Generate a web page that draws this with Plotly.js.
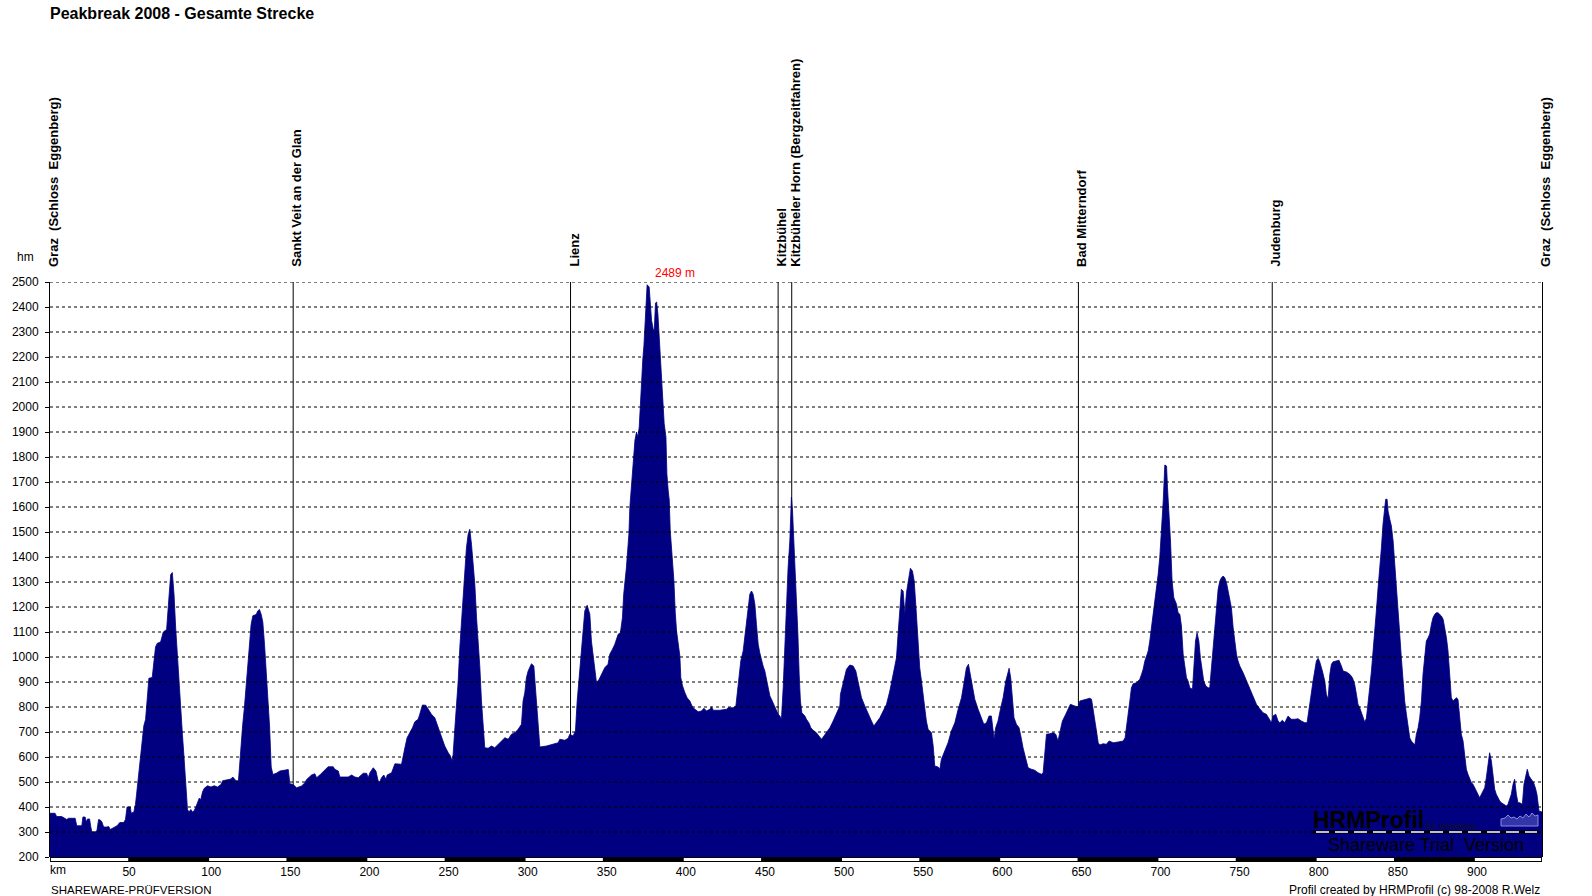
<!DOCTYPE html>
<html><head><meta charset="utf-8">
<script src="https://cdn.plot.ly/plotly-3.0.1.min.js"></script>
<style>html,body{margin:0;padding:0;background:#fff;} #chart{width:1592px;height:896px;}</style>
</head><body><div id="chart"></div>
<script>
// ---- profile data: [km, elevation m] per leg ----
const legGrazStVeit = [[0,375],[3.2,375],[4.2,362],[7.4,362],[10.6,350],[11.7,355],[15.9,355],[16.9,325],[20.1,325],[20.8,360],[22.2,360],[22.9,340],[23.7,352],[25.0,352],[25.8,320],[26.5,300],[28.6,300],[29.7,307],[30.7,350],[31.8,348],[32.8,340],[33.9,320],[36.0,320],[37.1,322],[38.1,310],[40.3,318],[42.4,325],[44.1,338],[46.6,338],[47.7,350],[48.7,400],[50.8,400],[51.3,375],[53.0,380],[54.0,410],[54.7,450],[55.5,500],[56.8,580],[58.3,650],[59.3,725],[60.4,750],[61.4,850],[62.5,915],[64.6,918],[65.7,1000],[66.7,1040],[67.8,1055],[69.9,1060],[71.6,1100],[73.7,1110],[75.2,1240],[76.3,1330],[77.3,1338],[78.4,1250],[79.4,1120],[80.5,1000],[81.6,910],[82.6,800],[83.7,690],[84.7,600],[85.8,480],[86.9,390],[87.9,380],[89.0,390],[90.0,380],[91.1,385],[92.2,400],[93.2,420],[94.3,435],[95.3,430],[96.4,460],[97.5,475],[99.6,485],[101.7,480],[103.8,485],[105.9,480],[108.1,490],[109.1,505],[112.3,510],[114.4,512],[115.5,520],[117.6,505],[119.1,505],[119.7,560],[120.8,650],[121.8,730],[122.9,800],[123.9,880],[125.0,960],[126.1,1050],[127.1,1130],[128.2,1165],[130.3,1170],[131.4,1185],[132.4,1190],[133.5,1170],[134.5,1140],[135.6,1050],[136.7,950],[137.7,850],[138.8,720],[139.8,560],[140.9,530],[143.0,535],[145.3,544],[150.6,550],[151.6,493],[153.7,490]];
const legStVeitLienz = [[155.8,477],[159.0,484],[161.1,497],[162.2,510],[165.3,528],[167.4,533],[168.5,517],[171.0,531],[172.7,541],[175.8,561],[179.0,561],[180.0,551],[182.2,544],[183.2,520],[188.5,520],[190.6,528],[192.7,520],[194.8,517],[198.0,535],[200.1,535],[201.1,517],[202.2,537],[204.3,557],[206.0,544],[207.4,504],[208.5,501],[209.5,517],[211.0,528],[212.3,511],[213.1,528],[215.9,537],[216.9,551],[218.0,573],[222.2,571],[223.2,597],[224.3,637],[225.7,677],[227.4,697],[229.1,717],[230.6,741],[232.7,751],[233.7,771],[235.4,808],[237.5,807],[239.0,791],[241.1,771],[243.2,757],[244.3,737],[246.0,704],[248.1,671],[249.5,644],[251.7,617],[253.1,604],[254.2,584],[254.8,611],[255.9,717],[256.9,797],[258.0,904],[259.0,1037],[260.1,1144],[261.1,1251],[262.2,1331],[263.2,1437],[264.3,1491],[265.3,1511],[266.4,1451],[267.4,1384],[268.5,1291],[269.6,1157],[270.6,1064],[271.7,957],[272.7,824],[273.8,717],[274.8,637],[276.9,635],[279.0,644],[281.1,637],[283.2,651],[285.3,664],[287.5,677],[289.6,671],[291.7,691],[293.8,697],[295.9,711],[298.0,731],[299.0,824],[300.1,857],[301.1,917],[302.2,944],[304.3,973],[305.8,964],[307.0,851],[308.5,717],[309.6,640],[313.8,644],[318.0,651],[321.2,657],[322.2,671],[325.4,667],[327.5,675],[328.5,691]];
const legLienzKitzbuehel = [[330.6,684],[332.1,704],[333.2,824],[334.2,904],[335.5,1011],[336.5,1091],[338.0,1184],[339.5,1207],[341.2,1171],[342.2,1064],[343.3,997],[344.3,944],[345.4,897],[347.1,911],[348.5,931],[350.6,957],[352.7,971],[353.8,1011],[355.5,1031],[357.0,1051],[359.1,1091],[360.5,1097],[361.8,1157],[362.6,1251],[364.3,1357],[365.0,1407],[365.9,1493],[366.5,1600],[367.6,1680],[368.6,1787],[369.7,1867],[370.7,1900],[371.6,1880],[372.4,1920],[372.8,1973],[373.7,2047],[374.1,2113],[374.7,2193],[375.4,2247],[376.0,2336],[376.6,2420],[377.4,2489],[378.7,2480],[379.4,2420],[380.2,2347],[381.2,2313],[381.9,2305],[382.7,2416],[383.4,2420],[384.2,2373],[384.8,2307],[385.5,2240],[386.1,2160],[386.7,2107],[387.6,2013],[388.2,1933],[389.3,1880],[389.9,1733],[390.7,1667],[391.4,1627],[392.0,1507],[392.9,1433],[393.5,1367],[394.3,1307],[395.2,1177],[396.0,1104],[397.4,1037],[398.1,1004],[398.7,917],[399.8,884],[401.3,857],[402.7,837],[404.4,824],[406.1,800],[407.6,791],[409.7,781],[411.8,784],[413.3,795],[414.9,784],[417.1,791],[418.1,801],[419.2,787],[423.4,787],[427.6,791],[428.6,797],[431.8,797],[433.5,804],[434.3,851],[435.6,917],[436.6,984],[438.1,1024],[439.2,1077],[440.2,1131],[441.3,1197],[442.3,1251],[443.4,1264],[444.4,1251],[445.5,1211],[446.5,1131],[447.6,1051],[448.6,1017],[449.7,984],[450.7,964],[451.8,944],[452.9,904],[453.9,871],[455.0,844],[456.0,831],[457.5,811],[458.8,787],[460.2,771]];
const legKitzbuehelHorn = [[461.3,764],[462.3,751],[463.4,877],[464.4,1037],[465.5,1171],[466.5,1357],[467.6,1464],[468.2,1584],[468.6,1640]];
const legHornMitterndorf = [[469.3,1584],[470.1,1477],[471.0,1357],[471.8,1251],[472.7,1091],[473.5,931],[474.3,824],[475.2,777],[476.0,771],[477.1,764],[478.1,751],[479.6,737],[480.9,717],[482.3,707],[484.4,697],[486.1,684],[487.6,671],[488.7,680],[490.8,697],[492.9,717],[495.0,744],[497.1,777],[499.2,804],[499.6,851],[501.3,891],[503.4,951],[505.5,968],[507.6,964],[509.3,944],[510.8,897],[511.8,871],[512.9,837],[515.0,804],[517.1,771],[519.2,744],[520.7,724],[522.4,737],[524.5,757],[526.6,784],[528.7,811],[530.8,864],[532.9,931],[535.0,997],[536.0,1091],[537.1,1171],[538.1,1271],[539.2,1264],[540.3,1171],[541.3,1257],[542.4,1304],[543.8,1355],[545.1,1344],[546.2,1304],[547.2,1211],[548.1,1117],[548.9,1037],[549.7,957],[550.8,904],[551.8,844],[552.9,784],[553.9,744],[555.0,711],[556.1,704],[557.1,697],[558.2,644],[559.2,564],[561.3,560],[562.4,551],[563.4,591],[565.5,624],[567.6,657],[569.7,704],[571.9,737],[574.0,791],[576.1,837],[578.2,917],[579.2,957],[580.5,971],[581.7,931],[583.0,877],[584.5,831],[586.6,791],[588.7,751],[590.2,731],[591.9,737],[593.5,764],[595.0,764],[596.1,717],[596.7,671],[597.7,717],[599.2,744],[600.7,791],[602.4,837],[604.1,904],[605.1,931],[606.2,955],[607.2,917],[608.3,824],[609.3,757],[610.8,731],[612.5,717],[614.0,671],[615.0,637],[617.1,584],[618.2,557],[620.3,551],[622.4,547],[624.5,537],[626.6,531],[627.7,537],[628.7,597],[629.8,691],[631.9,693],[634.0,697],[635.7,691],[637.1,664],[638.2,697],[639.9,744],[642.0,771],[643.4,791],[644.9,811],[647.7,804],[649.8,800]];
const legMitterndorfJudenburg = [[650.9,824],[653.0,827],[655.1,831],[657.2,835],[658.3,831],[659.3,784],[660.4,744],[661.4,704],[662.5,657],[663.5,648],[665.6,653],[667.7,651],[669.4,664],[672.0,657],[675.1,660],[678.3,664],[679.5,677],[680.4,717],[681.4,771],[682.5,824],[683.5,877],[684.6,893],[686.7,897],[688.8,911],[689.9,931],[690.9,951],[692.0,984],[693.0,1004],[694.1,1024],[695.1,1064],[696.2,1117],[697.2,1171],[698.3,1211],[699.3,1277],[700.4,1331],[701.4,1397],[702.5,1504],[703.6,1624],[704.6,1768],[705.7,1764],[706.3,1677],[707.1,1597],[708.2,1464],[709.2,1304],[710.3,1237],[712.0,1211],[713.0,1177],[714.1,1171],[715.1,1124],[716.2,1011],[717.2,957],[718.3,917],[719.3,904],[720.4,877],[722.1,871],[722.9,957],[724.0,1064],[725.0,1097],[726.1,1064],[727.1,997],[728.2,957],[729.2,904],[730.5,884],[732.0,877],[733.0,877],[734.1,957],[735.1,1037],[736.2,1131],[737.2,1197],[738.3,1271],[739.4,1304],[740.4,1317],[741.5,1324],[742.5,1317],[743.6,1297],[744.6,1264],[745.7,1237],[746.7,1197],[747.8,1117],[748.8,1064],[749.9,1011],[750.9,984],[752.0,964],[754.1,937],[756.2,904],[758.3,871],[760.4,837],[762.5,811],[764.6,793],[766.7,777],[768.8,771],[770.9,751],[772.0,737]];
const legJudenburgGraz = [[773.0,764],[774.7,771],[776.2,744],[777.3,737],[778.9,747],[780.4,737],[782.5,764],[784.6,751],[786.7,751],[788.8,753],[790.9,744],[793.1,737],[794.5,737],[795.8,784],[796.8,837],[798.3,904],[799.4,957],[800.4,984],[801.5,995],[802.5,981],[804.2,944],[805.7,904],[806.7,851],[807.8,831],[808.9,931],[809.9,971],[811.0,981],[813.1,984],[814.7,987],[816.2,964],[817.3,944],[819.4,940],[821.5,931],[823.2,917],[824.6,891],[825.7,851],[826.7,811],[827.8,797],[828.9,777],[829.9,760],[831.0,739],[832.0,755],[833.1,811],[834.1,877],[835.2,944],[836.2,1011],[837.3,1097],[838.3,1184],[839.4,1277],[840.4,1344],[841.5,1437],[842.5,1531],[843.6,1597],[844.2,1631],[845.1,1631],[845.7,1584],[846.8,1551],[847.8,1524],[848.9,1464],[849.9,1384],[851.0,1291],[852.0,1184],[853.1,1091],[854.1,997],[855.2,904],[856.2,824],[857.3,771],[858.3,717],[859.4,677],[860.4,664],[861.5,657],[862.6,648],[863.6,691],[864.7,717],[865.7,757],[866.8,824],[867.8,931],[868.9,1011],[869.9,1064],[871.0,1077],[872.0,1091],[873.1,1131],[874.1,1157],[875.2,1171],[876.2,1177],[877.3,1177],[878.3,1171],[879.4,1164],[880.5,1151],[881.5,1117],[882.6,1077],[883.6,1024],[884.7,931],[885.7,837],[886.8,824],[887.8,831],[888.9,837],[889.9,831],[891.0,757],[892.0,691],[893.1,664],[894.1,597],[895.2,551],[896.2,531],[897.3,517],[898.4,497],[899.4,491],[900.5,477],[901.5,464],[902.6,444],[903.6,437],[904.7,451],[905.7,464],[906.8,477],[907.8,517],[908.9,571],[909.9,617],[911.0,584],[912.0,517],[913.1,471],[914.1,451],[915.2,435],[916.3,424],[917.3,417],[918.4,413],[919.4,408],[920.5,404],[921.5,411],[922.6,437],[923.6,451],[924.7,491],[925.7,511],[926.8,451],[927.8,417],[928.9,417],[930.6,411],[931.6,491],[932.7,531],[933.7,551],[934.8,524],[936.3,511],[937.7,497],[938.8,477],[939.8,451],[941.1,384],[943,380]];

const placeNames = ['Graz\u00a0 (Schloss\u00a0 Eggenberg)','Sankt Veit an der Glan','Lienz','Kitzbühel','Kitzbüheler Horn (Bergzeitfahren)','Bad Mitterndorf','Judenburg','Graz\u00a0 (Schloss\u00a0 Eggenberg)'];
const placeKm = [0,153.7,329,460.2,468.8,650,772.5,943];
const xTickVals = [50,100,150,200,250,300,350,400,450,500,550,600,650,700,750,800,850,900];
const xTickText = ['50','\u2002100','\u2002150','\u2002200','\u2002250','\u2002300','\u2002350','\u2002400','\u2002450','\u2002500','\u2002550','\u2002600','\u2002650','\u2002700','\u2002750','\u2002800','\u2002850','\u2002900'];
const yTickVals = [200,300,400,500,600,700,800,900,1000,1100,1200,1300,1400,1500,1600,1700,1800,1900,2000,2100,2200,2300,2400,2500];
const yTickText = yTickVals.map(String);

// ---- layout geometry (page pixels) ----
const W=1592,H=896,L=50,R=1542,T=282,B=857;
const FONT='Liberation Sans, Arial, sans-serif';
const fx = px => (px-L)/(R-L);
const fy = py => (B-py)/(B-T);
const kmMax = 943;

const pts = [legGrazStVeit,legStVeitLienz,legLienzKitzbuehel,legKitzbuehelHorn,legHornMitterndorf,legMitterndorfJudenburg,legJudenburgGraz].flat();
const km = pts.map(p=>p[0]);
const elev = pts.map(p=>p[1]);
let iMax = 0; elev.forEach((v,i)=>{ if(v>elev[iMax]) iMax=i; });

const trace = {x:km, y:elev, type:'scatter', mode:'lines', line:{color:'#000080', width:0.8},
  fill:'tozeroy', fillcolor:'#000080', hoverinfo:'skip'};

const shapes = [];
placeKm.slice(1,-1).forEach(k=>shapes.push({type:'line', xref:'x', yref:'y', x0:k, x1:k, y0:200, y1:2500, line:{color:'#000', width:1}, layer:'below'}));
yTickVals.filter(v=>v>200).forEach(v=>shapes.push({type:'line', xref:'paper', yref:'y', x0:0, x1:1, y0:v, y1:v, line:{color:'#000', width:1, dash:'3px,3px'}, layer:'above'}));
const ph = B-T;
shapes.push({type:'rect', xref:'paper', yref:'paper', x0:0, x1:1, y0:-5/ph, y1:0, fillcolor:'#000', line:{width:0}, layer:'above'});
for(let s=0; s<kmMax; s+=100){
  shapes.push({type:'rect', xref:'paper', yref:'paper', x0:s/kmMax+0.0006, x1:Math.min(s+50,kmMax)/kmMax-0.0006, y0:-4/ph, y1:-1/ph, fillcolor:'#fff', line:{width:0}, layer:'above'});
}
// watermark underline and logo
shapes.push({type:'line', xref:'paper', yref:'paper', x0:fx(1313), x1:fx(1539), y0:fy(832), y1:fy(832), line:{color:'#000', width:3}, layer:'above'});
shapes.push({type:'line', xref:'paper', yref:'paper', x0:fx(1316), x1:fx(1537), y0:fy(832), y1:fy(832), line:{color:'#fff', width:1.5, dash:'13px,6px'}, layer:'above'});
const logoPts = [[1501,826],[1501,819],[1505,818],[1508,815],[1511,818],[1514,817],[1517,819],[1520,816],[1523,818],[1526,814],[1529,817],[1532,813],[1535,816],[1538,815],[1538,826]];
shapes.push({type:'path', xref:'paper', yref:'paper', path:'M'+logoPts.map(p=>fx(p[0])+','+fy(p[1])).join(' L')+' Z',
  fillcolor:'#3434aa', line:{color:'#8a8ae0', width:1}, layer:'above'});

const annotations = [];
placeNames.forEach((n,i)=>annotations.push({text:'<b>'+n+'</b>', x:placeKm[i]/kmMax, xref:'paper', y:1, yref:'paper',
  xanchor:'center', yanchor:'bottom', xshift:3, yshift:13, textangle:-90, showarrow:false,
  font:{family:FONT, size:13, color:'#000'}}));
annotations.push({text:elev[iMax]+' m', x:km[iMax], xref:'x', y:2500, yref:'y', xanchor:'left', yanchor:'bottom', xshift:6, yshift:0,
  showarrow:false, font:{family:FONT, size:12, color:'#ff0000'}});
annotations.push({text:'hm', x:fx(25), xref:'paper', y:fy(257), yref:'paper', xanchor:'center', yanchor:'middle', showarrow:false, font:{family:FONT,size:12,color:'#000'}});
annotations.push({text:'km', x:fx(48), xref:'paper', y:fy(870), yref:'paper', xanchor:'left', yanchor:'middle', showarrow:false, font:{family:FONT,size:12,color:'#000'}});
annotations.push({text:'SHAREWARE-PRÜFVERSION', x:fx(49), xref:'paper', y:fy(890), yref:'paper', xanchor:'left', yanchor:'middle', showarrow:false, font:{family:FONT,size:11.5,color:'#000'}});
annotations.push({text:'Profil created by HRMProfil (c) 98-2008 R.Welz', x:1, xref:'paper', y:fy(890), yref:'paper', xanchor:'right', yanchor:'middle', showarrow:false, font:{family:FONT,size:12,color:'#000'}});
annotations.push({text:'<b>HRMProfil</b>', x:fx(1311), xref:'paper', y:fy(820), yref:'paper', xanchor:'left', yanchor:'middle', showarrow:false, font:{family:FONT,size:23,color:'#000'}});
annotations.push({text:'für Windows', x:fx(1424), xref:'paper', y:fy(826), yref:'paper', xanchor:'left', yanchor:'middle', showarrow:false, font:{family:FONT,size:9,color:'#111'}});
annotations.push({text:'Shareware Trial\u00a0 Version', x:fx(1326), xref:'paper', y:fy(845), yref:'paper', xanchor:'left', yanchor:'middle', showarrow:false, font:{family:FONT,size:18,color:'#000'}});

const layout = {
  width:W, height:H, margin:{l:L, r:W-R, t:T, b:H-B, pad:0},
  paper_bgcolor:'#fff', plot_bgcolor:'#fff', showlegend:false,
  title:{text:'<b>Peakbreak 2008 - Gesamte Strecke</b>', font:{family:FONT,size:16,color:'#000'},
    x:50/W, xanchor:'left', xref:'container', y:1-13/H, yanchor:'middle', yref:'container'},
  xaxis:{range:[0,kmMax], showgrid:false, zeroline:false, showline:false, ticks:'',
    tickvals:xTickVals, ticktext:xTickText, tickfont:{family:FONT,size:12,color:'#000'}, ticklabelstandoff:6, fixedrange:true},
  yaxis:{range:[200,2500], showgrid:false, zeroline:false, showline:true, linecolor:'#000', linewidth:1, mirror:true,
    ticks:'outside', ticklen:4, tickcolor:'#000', tickvals:yTickVals, ticktext:yTickText,
    tickfont:{family:FONT,size:12,color:'#000'}, ticklabelstandoff:4, fixedrange:true},
  shapes:shapes, annotations:annotations, hovermode:false
};
Plotly.newPlot('chart',[trace],layout,{staticPlot:true, displayModeBar:false});
</script></body></html>
